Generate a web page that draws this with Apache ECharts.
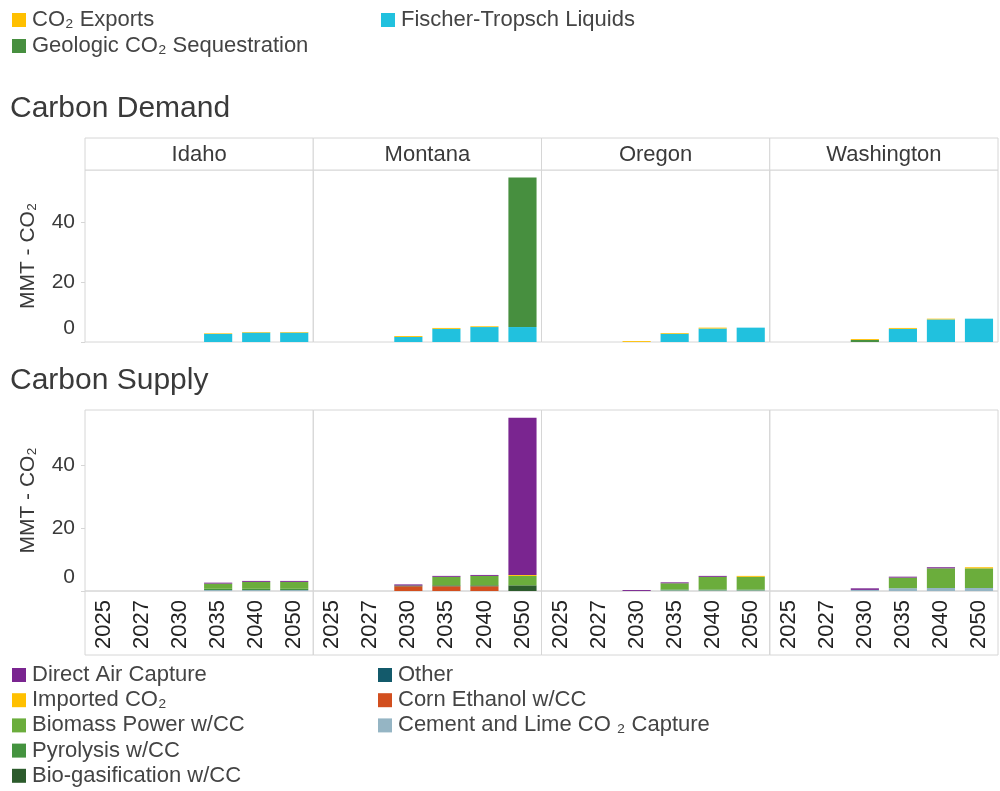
<!DOCTYPE html>
<html>
<head>
<meta charset="utf-8">
<script src="https://cdn.jsdelivr.net/npm/echarts@6/dist/echarts.min.js"></script>
<style>
  html, body { margin: 0; padding: 0; background: #fff; }
  #chart { width: 1000px; height: 791px; }
</style>
</head>
<body>
<div id="chart"></div>
<script>
// categories
const years = ['2025', '2027', '2030', '2035', '2040', '2050'];
const states = ['Idaho', 'Montana', 'Oregon', 'Washington'];
const yTicks = [0, 20, 40];

// carbon demand (MMT CO2), one array per state in the order of `states`
const ftLiquids = [
    [0, 0, 0, 2.7, 3.15, 3.15],
    [0, 0, 1.7, 4.4, 5.0, 5.0],
    [0, 0, 0, 2.75, 4.5, 4.8],
    [0, 0, 0, 4.4, 7.55, 7.8]
];
const geologicSeq = [
    [0, 0, 0, 0, 0, 0],
    [0, 0, 0, 0, 0, 50],
    [0, 0, 0, 0, 0, 0],
    [0, 0, 0.7, 0, 0, 0]
];
const co2Exports = [
    [0, 0, 0, 0.2, 0.2, 0.2],
    [0, 0, 0.3, 0.3, 0.25, 0],
    [0, 0, 0.3, 0.25, 0.3, 0],
    [0, 0, 0.3, 0.3, 0.25, 0]
];

// carbon supply (MMT CO2)
const cementLime = [
    [0, 0, 0, 0.3, 0.3, 0.3],
    [0, 0, 0, 0, 0, 0],
    [0, 0, 0, 0.2, 0.2, 0.2],
    [0, 0, 0.35, 0.9, 0.95, 0.95]
];
const cornEthanol = [
    [0, 0, 0, 0, 0, 0],
    [0, 0, 1.5, 1.5, 1.5, 0],
    [0, 0, 0, 0, 0, 0],
    [0, 0, 0, 0, 0, 0]
];
const otherSupply = [
    [0, 0, 0, 0, 0, 0],
    [0, 0, 0, 0, 0, 0],
    [0, 0, 0, 0, 0, 0],
    [0, 0, 0, 0, 0, 0]
];
const bioGasification = [
    [0, 0, 0, 0, 0, 0],
    [0, 0, 0.25, 0.3, 0.3, 1.8],
    [0, 0, 0, 0, 0, 0],
    [0, 0, 0, 0, 0, 0]
];
const pyrolysis = [
    [0, 0, 0, 0.4, 0.4, 0.4],
    [0, 0, 0, 0, 0, 0],
    [0, 0, 0, 0.3, 0.3, 0.3],
    [0, 0, 0, 0, 0, 0]
];
const biomassPower = [
    [0, 0, 0, 1.65, 2.2, 2.2],
    [0, 0, 0, 2.7, 3.0, 3.0],
    [0, 0, 0, 1.95, 4.0, 4.0],
    [0, 0, 0, 3.35, 6.25, 6.25]
];
const importedCo2 = [
    [0, 0, 0, 0, 0, 0],
    [0, 0, 0, 0, 0, 0.3],
    [0, 0, 0, 0, 0, 0.3],
    [0, 0, 0, 0, 0, 0.35]
];
const directAir = [
    [0, 0, 0, 0.3, 0.3, 0.3],
    [0, 0, 0.35, 0.3, 0.3, 49.9],
    [0, 0, 0.3, 0.3, 0.3, 0],
    [0, 0, 0.5, 0.3, 0.35, 0]
];

// stacking order, bottom to top
const demandSeries = [
    { name: 'Fischer-Tropsch Liquids', data: ftLiquids, color: '#21c1de' },
    { name: 'Geologic CO₂ Sequestration', data: geologicSeq, color: '#478f3f' },
    { name: 'CO₂ Exports', data: co2Exports, color: '#ffc000' }
];
const supplySeries = [
    { name: 'Cement and Lime CO ₂ Capture', data: cementLime, color: '#95b5c4' },
    { name: 'Corn Ethanol w/CC', data: cornEthanol, color: '#d24f1f' },
    { name: 'Other', data: otherSupply, color: '#135a6b' },
    { name: 'Bio-gasification w/CC', data: bioGasification, color: '#2c5b2c' },
    { name: 'Pyrolysis w/CC', data: pyrolysis, color: '#44933f' },
    { name: 'Biomass Power w/CC', data: biomassPower, color: '#6bad3c' },
    { name: 'Imported CO₂', data: importedCo2, color: '#ffc000' },
    { name: 'Direct Air Capture', data: directAir, color: '#7a2590' }
];

const font = 'Liberation Sans, Arial, sans-serif';
const txt = '#3a3a3a';
const lineCol = '#d6d6d6';
const panelLeft = 85, panelRight = 998;
const panelW = (panelRight - panelLeft) / 4;
const rows = [
    { top: 170, height: 172, defs: demandSeries, labels: false },
    { top: 410, height: 181, defs: supplySeries, labels: true }
];

let grids = [], xAxes = [], yAxes = [], series = [], graphics = [], titles = [];

titles.push({ text: 'Carbon Demand', left: 10, top: 94, padding: 0,
    textStyle: { fontFamily: font, fontSize: 30, fontWeight: 'normal', color: txt } });
titles.push({ text: 'Carbon Supply', left: 10, top: 366, padding: 0,
    textStyle: { fontFamily: font, fontSize: 30, fontWeight: 'normal', color: txt } });

rows.forEach(function (row, r) {
    states.forEach(function (st, i) {
        const gi = r * 4 + i;
        const left = panelLeft + i * panelW;
        grids.push({ left: left, top: row.top, width: panelW, height: row.height,
            show: true, borderColor: lineCol, borderWidth: 1, containLabel: false });
        xAxes.push({
            type: 'category', gridIndex: gi, data: years,
            axisLine: { show: false }, axisTick: { show: false },
            axisLabel: { show: row.labels, rotate: 90, fontFamily: font, fontSize: 22,
                color: '#222', margin: 9 }
        });
        yAxes.push({
            type: 'value', gridIndex: gi, min: 0, max: 57.5, interval: 20,
            name: i === 0 ? 'MMT - CO₂' : '', nameLocation: 'middle', nameGap: 46,
            nameTextStyle: { fontFamily: font, fontSize: 21, color: txt },
            axisLine: { show: false },
            axisTick: { show: i === 0, length: 4, customValues: yTicks, lineStyle: { color: lineCol } },
            splitLine: { show: false },
            axisLabel: {
                show: i === 0, customValues: yTicks, fontFamily: font, fontSize: 21, color: txt, margin: 10,
                formatter: function (v) { return v === 0 ? '{z|0}' : String(v); },
                rich: { z: { fontFamily: font, fontSize: 21, color: txt, padding: [0, 0, 28, 0] } }
            }
        });
        row.defs.forEach(function (d) {
            series.push({
                type: 'bar', name: d.name, xAxisIndex: gi, yAxisIndex: gi,
                stack: 'g' + gi, barWidth: '74%', data: d.data[i],
                itemStyle: { color: d.color }
            });
        });
        if (r === 0) {
            // facet strip with the state name
            graphics.push({ type: 'rect', shape: { x: left, y: 138, width: panelW, height: 32 },
                style: { fill: '#fff', stroke: lineCol, lineWidth: 1 }, silent: true });
            titles.push({ text: st, left: left + panelW / 2, top: 144, textAlign: 'center', padding: 0,
                textStyle: { fontFamily: font, fontSize: 22, fontWeight: 'normal', color: txt } });
        } else {
            // box under the bottom panel that holds the year labels
            graphics.push({ type: 'rect', shape: { x: left, y: 591, width: panelW, height: 64 },
                style: { fill: 'none', stroke: lineCol, lineWidth: 1 }, silent: true, z: -1 });
        }
    });
});

function legendBlock(names, left, top, gap) {
    return {
        orient: 'vertical', left: left, top: top, padding: 0, data: names, icon: 'rect',
        itemWidth: 14, itemHeight: 14, itemGap: gap, selectedMode: false,
        textStyle: { fontFamily: font, fontSize: 22, color: '#444', padding: [0, 0, 0, 1] }
    };
}

const option = {
    animation: false,
    backgroundColor: '#fff',
    title: titles,
    legend: [
        legendBlock(['CO₂ Exports', 'Geologic CO₂ Sequestration'], 12, 9, 4),
        legendBlock(['Fischer-Tropsch Liquids'], 381, 9, 4),
        legendBlock(['Direct Air Capture', 'Imported CO₂', 'Biomass Power w/CC',
            'Pyrolysis w/CC', 'Bio-gasification w/CC'], 12, 664, 3.2),
        legendBlock(['Other', 'Corn Ethanol w/CC', 'Cement and Lime CO ₂ Capture'], 378, 664, 3.2)
    ],
    grid: grids,
    xAxis: xAxes,
    yAxis: yAxes,
    series: series,
    graphic: graphics
};

const chart = echarts.init(document.getElementById('chart'));
chart.setOption(option);
</script>
</body>
</html>
